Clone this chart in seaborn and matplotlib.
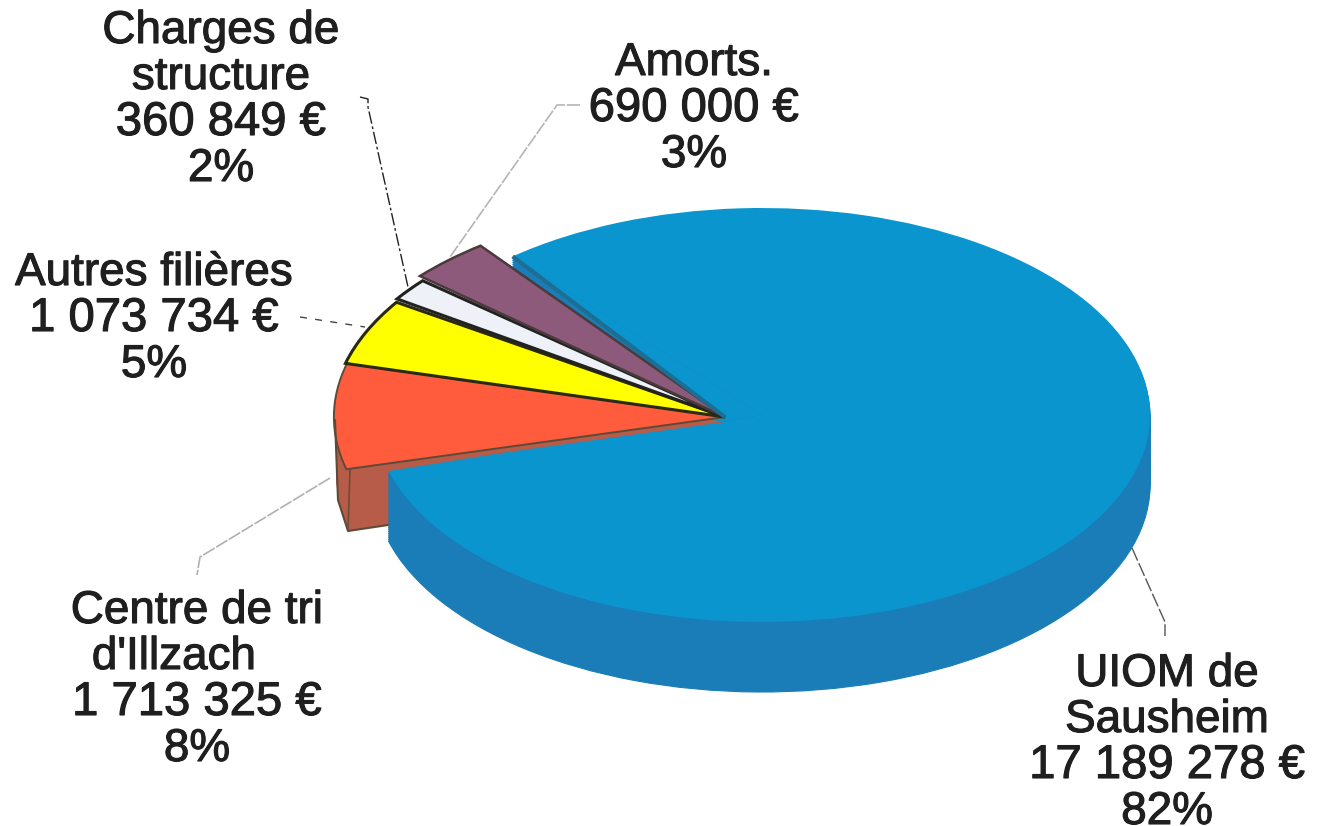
import numpy as np
import matplotlib
matplotlib.use('Agg')
import matplotlib.pyplot as plt
import matplotlib.patheffects as pe
from matplotlib.patches import Rectangle
import seaborn as sns

# Slices in pie order, counterclockwise from the lower edge of the big slice
names = ['UIOM de\nSausheim', 'Amorts.', 'Charges de\nstructure', 'Autres filières', "Centre de tri\nd'Illzach"]
values = [17189278, 690000, 360849, 1073734, 1713325]
percents = ['82%', '3%', '2%', '5%', '8%']
top_colors = ['#0a95cf', '#8e5a7c', '#eef2f8', '#ffff00', '#ff5c3e']
side_colors = ['#1a7db8', '#6f4560', '#c8ccd2', '#c8c800', '#b65c48']
edge_colors = ['none', '#4a3a3a', '#222222', '#2a2a10', '#5e4a38']

sns.set_theme(style='white')
plt.rcParams['font.family'] = ['Liberation Sans', 'DejaVu Sans']

W, H = 1323, 826
CX, CY, RX, RY = 762, 415, 388, 207  # ellipse of the big slice, in pixels
APEX = (725, 417)                    # where the small slices meet
START = 194.5
BIG_START = 195.7

fig = plt.figure(figsize=(W / 100, H / 100), dpi=100)
ax = fig.add_axes([0, 0, 1, 1])


def px(x, y):
    return (x - CX) / RX, (CY - y) / RY


def slices(keep, center, radius, colors, edge='none', lw=0.0, start=START):
    # one pie, only the slices in keep stay visible
    wedges, _ = ax.pie(values, colors=colors, center=center, radius=radius, startangle=start,
                       wedgeprops={'edgecolor': edge, 'linewidth': lw})
    for i, w in enumerate(wedges):
        w.set_visible(i in keep)
    return wedges


def rim(keep, x, y, depth, color, clip=None, start=START):
    # stack of shifted copies gives the thickness of the disc
    for d in range(depth, 0, -2):
        wedges = slices(keep, px(x, y + d), 1.0, [color] * len(values), color, 0.8, start)
        if clip is not None:
            wedges[keep[0]].set_clip_path(clip)


# thickness, red first so the blue disc hides most of it
rim([4], APEX[0], APEX[1] - 1, 62, side_colors[4])
ax.plot(*zip(px(335, 420), px(338, 500), px(348, 531), px(388, 525)), color='#5e4a38', lw=1.5)
ax.plot(*zip(px(350, 469), px(348, 531)), color='#6e4a3a', lw=1.2)

# the wall of the big slice only shows below the middle of the disc
low_half = Rectangle(px(0, H), W / RX, (H - 417) / RY, transform=ax.transData)
rim([0], CX, CY, 70, side_colors[0], clip=low_half, start=BIG_START)

big = slices([0], (0, 0), 1.0, top_colors, start=BIG_START)[0]

# the big slice is pulled to the apex of the small ones
a1, a2 = np.radians(big.theta1), np.radians(big.theta2)
fill_x = [np.cos(a1), px(*APEX)[0], np.cos(a2), 0]
fill_y = [np.sin(a1), px(*APEX)[1], np.sin(a2), 0]
ax.fill(fill_x, fill_y, color=top_colors[0], lw=0)
ax.plot([np.cos(a2), px(*APEX)[0]], [np.sin(a2), px(*APEX)[1]], color='#1c6f93', lw=3, solid_capstyle='butt')

# thin dark lip under the red slice
slices([4], px(APEX[0], APEX[1] + 5), 1.0, [side_colors[4]] * 5)

# small slices: radius and start angle follow the skew of the original drawing
for i, lw, r, st in [(4, 1.4, 1.008, START), (3, 2.2, 1.012, START), (2, 2.2, 1.02, START - 0.8), (1, 1.8, 1.04, START - 1.5)]:
    slices([i], px(*APEX), r, top_colors, edge_colors[i], lw, st)

# leader lines
ax.plot(*zip(px(360, 97), px(368, 99), px(368, 107), px(408, 287)), color='#222222', lw=1, ls=(0, (9, 2, 2, 2)))
ax.plot(*zip(px(580, 105), px(557, 105), px(450, 257)), color='#b5b5b5', lw=1.2, ls=(0, (8, 1)))
ax.plot(*zip(px(300, 317), px(365, 327)), color='#444444', lw=1, ls=(0, (5, 6)))
ax.plot(*zip(px(330, 478), px(200, 557), px(197, 575)), color='#b0b0b0', lw=1.2, ls=(0, (8, 1)))
ax.plot(*zip(px(1132, 548), px(1165, 622), px(1165, 636)), color='#555555', lw=1, ls=(0, (10, 2)))

# labels: centre x and first line y of each block, in pixels
blocks = [(1167, 674), (694, 63), (221, 31), (154, 273), (197, 611)]
heavy = [pe.withStroke(linewidth=0.8, foreground='#1f1f1f')]
for name, val, pct, (tx, ty) in zip(names, values, percents, blocks):
    amount = f'{val:,}'.replace(',', ' ') + ' €'
    for j, line in enumerate(name.split('\n') + [amount, pct]):
        shift = -23 if line.startswith('d\'') else 0
        size = 34 if '€' in line else 33
        ax.text(*px(tx + shift, ty + j * 46), line, ha='center', va='center', fontsize=size, color='#1f1f1f',
                path_effects=heavy)

ax.set_aspect('auto')
ax.set_xlim((0 - CX) / RX, (W - CX) / RX)
ax.set_ylim((CY - H) / RY, CY / RY)
ax.axis('off')

fig.savefig('out.png', dpi=100, facecolor='white')
